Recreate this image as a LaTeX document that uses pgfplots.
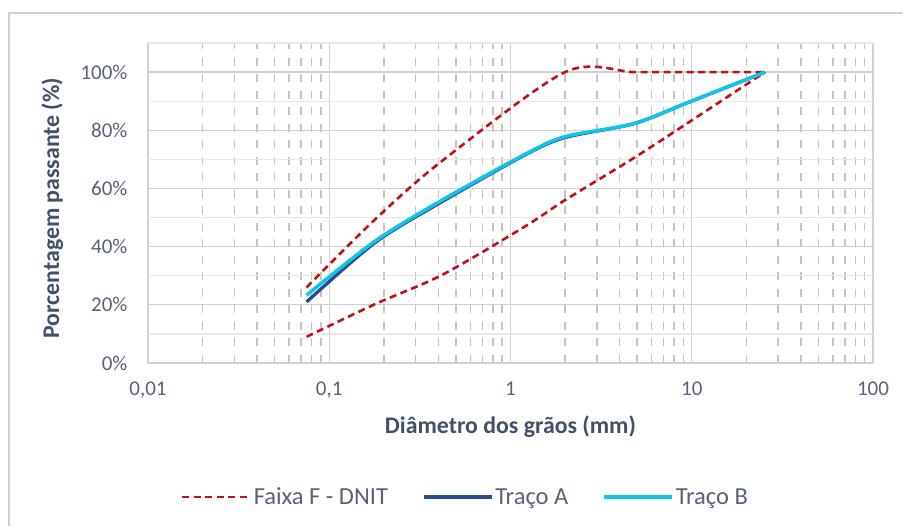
\documentclass[border=0pt]{standalone}
\usepackage{pgfplots}
\pgfplotsset{compat=1.18}
\usepackage{pgfplotstable}
\usepackage{fontspec}
\setmainfont{Carlito}
\definecolor{faixa}{RGB}{192,16,26}
\definecolor{tracoA}{RGB}{42,74,142}
\definecolor{tracoB}{RGB}{18,196,234}
\definecolor{ticktxt}{RGB}{89,99,118}
\definecolor{titletxt}{RGB}{66,80,104}
\definecolor{gridmaj}{RGB}{208,208,208}
\definecolor{griddash}{RGB}{196,196,196}
\definecolor{gridmin}{RGB}{232,232,232}

\pgfplotstableread{
d v
0.075 26
0.18 49.5
0.42 69.5
2.0 100
4.8 100
9.5 100
25.4 100
}\faixasup
\pgfplotstableread{
d v
0.075 9
0.18 20.3
0.42 30.3
1.2 46.9
2.0 56
4.8 70.5
9.5 82.5
25.4 100
}\faixainf
\pgfplotstableread{
d v
0.075 21
0.18 41.5
0.42 55.5
1.2 71.5
2.0 77.5
4.8 82.3
9.5 89.5
25.4 100
}\tracoa
\pgfplotstableread{
d v
0.075 23.3
0.18 42
0.42 56
1.2 71.7
2.0 77.8
4.8 82.3
9.5 89.5
25.4 100
}\tracob

\begin{document}
\begin{tikzpicture}
\useasboundingbox (0,0) rectangle (903bp,526bp);
\fill[white] (0,0) rectangle (903bp,526bp);
\draw[color=gridmaj, line width=1.2bp] (9bp,-5bp) -- (9bp,513bp) -- (910bp,513bp);
\begin{axis}[
  at={(148bp,163bp)}, anchor=south west,
  scale only axis, width=725bp, height=320bp,
  xmode=log, log basis x=10,
  xmin=0.01, xmax=100, ymin=0, ymax=110,
  enlargelimits=false,
  xtick={0.01,0.1,1,10,100},
  xticklabels={{0,01},{0,1},1,10,100},
  minor xtick={0.02,0.03,0.04,0.05,0.06,0.07,0.08,0.09,
               0.2,0.3,0.4,0.5,0.6,0.7,0.8,0.9,
               2,3,4,5,6,7,8,9,
               20,30,40,50,60,70,80,90},
  ytick={0,20,40,60,80,100},
  yticklabel={\pgfmathprintnumber{\tick}\%},
  /pgf/number format/assume math mode=true,
  major tick length=0pt, minor tick length=0pt,
  axis line style={draw=none},
  xmajorgrids, xminorgrids, ymajorgrids,
  major grid style={color=gridmaj, line width=1.3bp},
  minor grid style={color=griddash, line width=1.5bp, dash pattern=on 8bp off 8.5bp},
  extra y ticks={10,30,50,70,90,110},
  extra y tick labels={},
  extra y tick style={grid=major, major grid style={color=gridmin, line width=1.2bp}},
  tick label style={font=\fontsize{21bp}{24bp}\selectfont, text=ticktxt},
  yticklabel style={xshift=-17bp},
  xticklabel style={yshift=-15bp},
  xlabel={Diâmetro dos grãos (mm)},
  ylabel={Porcentagem passante (\%)},
  label style={font=\fontsize{23.8bp}{27bp}\selectfont\bfseries, text=titletxt},
  xlabel style={at={(axis description cs:0.5,-0.2)}, anchor=center},
  ylabel style={at={(axis description cs:-0.132,0.484)}, anchor=center},
  legend columns=3,
  legend cell align=left,
  legend style={draw=none, fill=none, at={(0.438,-0.419)}, anchor=center,
    font=\fontsize{24.5bp}{27bp}\selectfont, text=ticktxt,
    /tikz/every even column/.append style={column sep=32bp}},
  legend image code/.code={\draw[#1] (0bp,0bp) -- (68bp,0bp);},
]
\addplot[color=faixa, line width=2.6bp, dash pattern=on 7bp off 4.5bp, smooth, tension=0.5] table[x=d,y=v] {\faixasup};
\addlegendentry{Faixa F - DNIT}
\addplot[color=faixa, line width=2.6bp, dash pattern=on 7bp off 4.5bp, smooth, tension=0.5, forget plot] table[x=d,y=v] {\faixainf};
\addplot[color=tracoA, line width=3.3bp, smooth, tension=0.5] table[x=d,y=v] {\tracoa};
\addlegendentry{Traço A}
\addplot[color=tracoB, line width=3.5bp, smooth, tension=0.5] table[x=d,y=v] {\tracob};
\addlegendentry{Traço B}
\end{axis}
\end{tikzpicture}
\end{document}
